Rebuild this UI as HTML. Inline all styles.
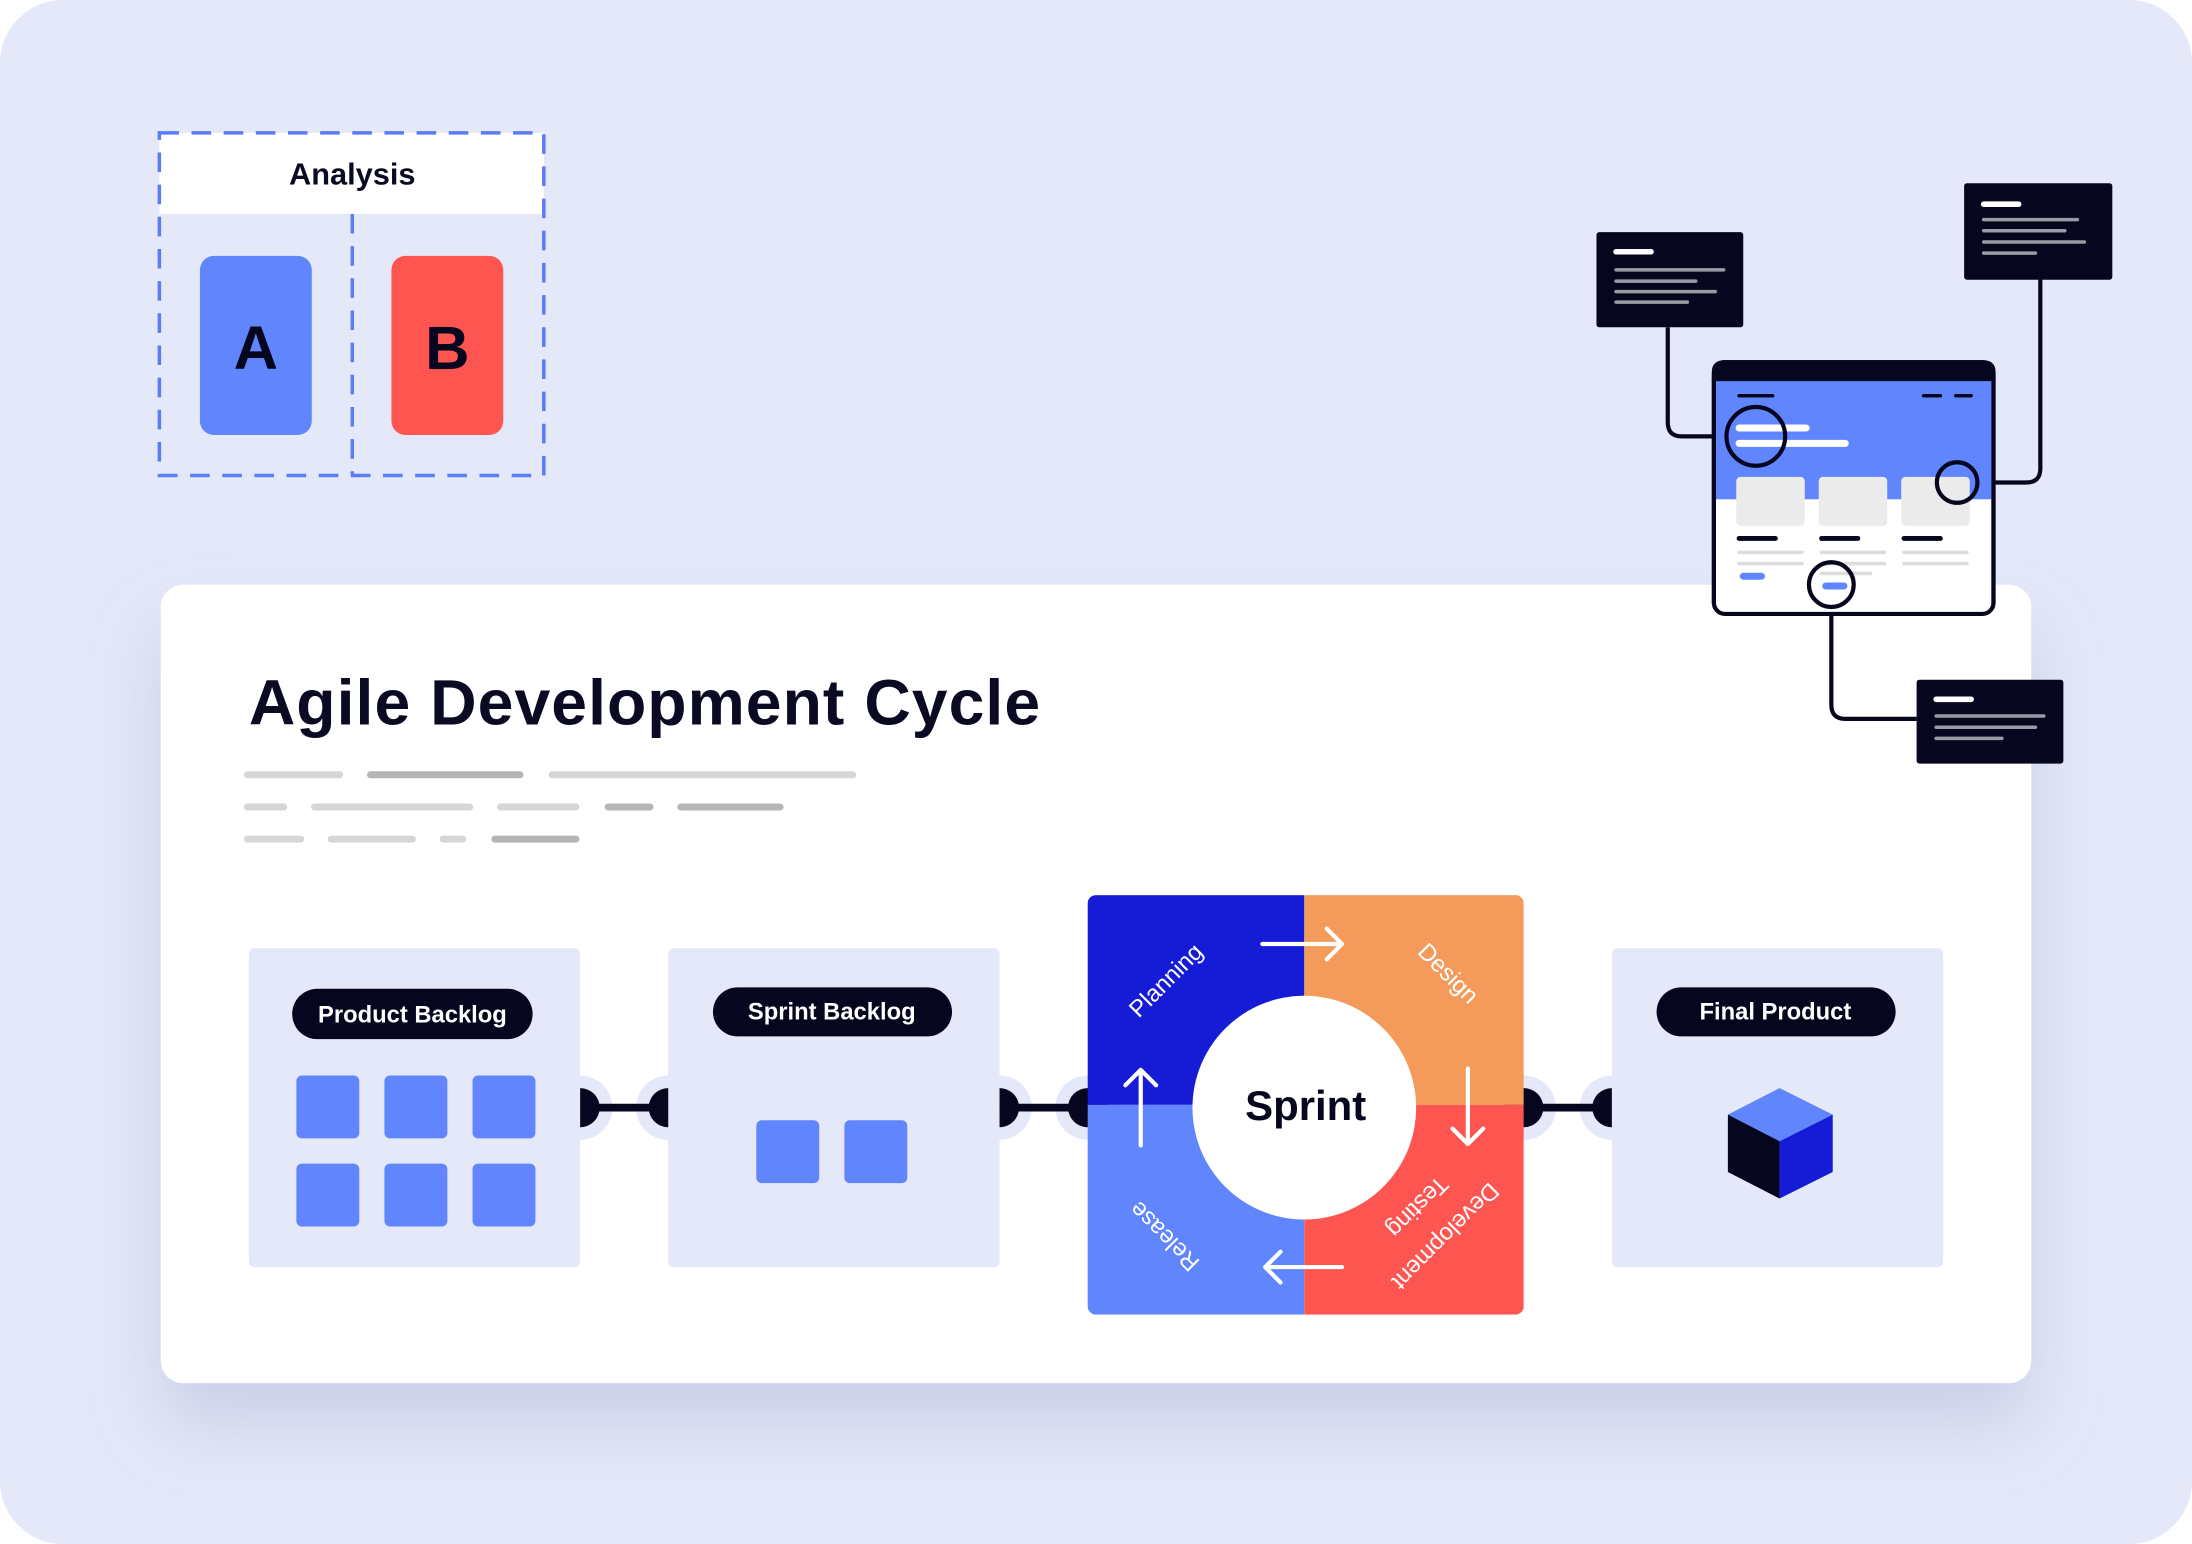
<!DOCTYPE html>
<html><head><meta charset="utf-8"><style>
html,body{margin:0;padding:0;background:#fff;width:2192px;height:1544px;overflow:hidden}
svg{display:block}
text{font-family:"Liberation Sans",sans-serif}
</style></head><body>
<svg width="2192" height="1544" viewBox="0 0 1568 1104" preserveAspectRatio="none" xmlns="http://www.w3.org/2000/svg">
<defs>
<filter id="sh" x="-10%" y="-10%" width="120%" height="140%"><feDropShadow dx="0" dy="30" stdDeviation="25" flood-color="#9aa3c8" flood-opacity="0.35"/></filter>
</defs>
<rect x="0" y="0" width="1568" height="1104" rx="45" fill="#e4e8f8"/>
<rect x="114" y="95" width="275" height="58" fill="#fff"/>
<rect x="114" y="95" width="275" height="245" fill="none" stroke="#5b7cf5" stroke-width="2.5" stroke-dasharray="14,9"/>
<line x1="252" y1="153" x2="252" y2="340" stroke="#5b7cf5" stroke-width="2.5" stroke-dasharray="14,9"/>
<text x="252" y="132" font-size="22" font-weight="bold" text-anchor="middle" fill="#0a0a23">Analysis</text>
<rect x="143" y="183" width="80" height="128" rx="10" fill="#6085fd"/>
<text x="183" y="264" font-size="44" font-weight="bold" text-anchor="middle" fill="#06061e">A</text>
<rect x="280" y="183" width="80" height="128" rx="10" fill="#ff5550"/>
<text x="320" y="264" font-size="44" font-weight="bold" text-anchor="middle" fill="#06061e">B</text>
<rect x="115" y="418" width="1338" height="571" rx="16" fill="#fff" filter="url(#sh)"/>
<text x="178" y="518" font-size="46" font-weight="bold" fill="#0a0a23" textLength="566">Agile Development Cycle</text>
<g stroke-linecap="round" stroke-width="5">
<line x1="177" y1="554" x2="243" y2="554" stroke="#d6d6d6"/>
<line x1="265" y1="554" x2="372" y2="554" stroke="#b5b5b5"/>
<line x1="395" y1="554" x2="610" y2="554" stroke="#d6d6d6"/>
<line x1="177" y1="577" x2="203" y2="577" stroke="#d6d6d6"/>
<line x1="225" y1="577" x2="336" y2="577" stroke="#d6d6d6"/>
<line x1="358" y1="577" x2="412" y2="577" stroke="#d6d6d6"/>
<line x1="435" y1="577" x2="465" y2="577" stroke="#b5b5b5"/>
<line x1="487" y1="577" x2="558" y2="577" stroke="#b5b5b5"/>
<line x1="177" y1="600" x2="215" y2="600" stroke="#d6d6d6"/>
<line x1="237" y1="600" x2="295" y2="600" stroke="#d6d6d6"/>
<line x1="317" y1="600" x2="331" y2="600" stroke="#d6d6d6"/>
<line x1="354" y1="600" x2="412" y2="600" stroke="#b5b5b5"/>
</g>
<g>
<circle cx="415" cy="792" r="23" fill="#e4e8f8"/><circle cx="478" cy="792" r="23" fill="#e4e8f8"/>
<circle cx="715" cy="792" r="23" fill="#e4e8f8"/><circle cx="778" cy="792" r="23" fill="#e4e8f8"/>
<circle cx="1090" cy="792" r="23" fill="#e4e8f8"/><circle cx="1153" cy="792" r="23" fill="#e4e8f8"/>
<circle cx="415" cy="792" r="14" fill="#06061e"/><circle cx="478" cy="792" r="14" fill="#06061e"/>
<circle cx="715" cy="792" r="14" fill="#06061e"/><circle cx="778" cy="792" r="14" fill="#06061e"/>
<circle cx="1090" cy="792" r="14" fill="#06061e"/><circle cx="1153" cy="792" r="14" fill="#06061e"/>
<g stroke="#06061e" stroke-width="5.5"><line x1="415" y1="792" x2="478" y2="792"/><line x1="715" y1="792" x2="778" y2="792"/><line x1="1090" y1="792" x2="1153" y2="792"/></g>
</g>
<rect x="178" y="678" width="237" height="228" rx="4" fill="#e4e8f8"/>
<rect x="209" y="707" width="172" height="36" rx="18" fill="#06061e"/>
<text x="295" y="731" font-size="17" font-weight="bold" fill="#fff" text-anchor="middle">Product Backlog</text>
<g fill="#6085fd">
<rect x="212" y="769" width="45" height="45" rx="4"/><rect x="275" y="769" width="45" height="45" rx="4"/><rect x="338" y="769" width="45" height="45" rx="4"/>
<rect x="212" y="832" width="45" height="45" rx="4"/><rect x="275" y="832" width="45" height="45" rx="4"/><rect x="338" y="832" width="45" height="45" rx="4"/>
</g>
<rect x="478" y="678" width="237" height="228" rx="4" fill="#e4e8f8"/>
<rect x="510" y="706" width="171" height="35" rx="17.5" fill="#06061e"/>
<text x="595" y="729" font-size="17" font-weight="bold" fill="#fff" text-anchor="middle">Sprint Backlog</text>
<rect x="541" y="801" width="45" height="45" rx="4" fill="#6085fd"/><rect x="604" y="801" width="45" height="45" rx="4" fill="#6085fd"/>
<rect x="1153" y="678" width="237" height="228" rx="4" fill="#e4e8f8"/>
<rect x="1185" y="706" width="171" height="35" rx="17.5" fill="#06061e"/>
<text x="1270" y="729" font-size="17" font-weight="bold" fill="#fff" text-anchor="middle">Final Product</text>
<polygon points="1273,778 1311,797 1273,816 1236,797" fill="#6085fd"/>
<polygon points="1236,797 1273,816 1273,857 1236,838" fill="#06061e"/>
<polygon points="1273,816 1311,797 1311,838 1273,857" fill="#161cd6"/>
<clipPath id="sq"><rect x="778" y="640" width="312" height="300" rx="6"/></clipPath>
<g clip-path="url(#sq)">
<rect x="778" y="640" width="155" height="150" fill="#161cd6"/>
<rect x="933" y="640" width="157" height="150" fill="#f49a5a"/>
<rect x="778" y="790" width="155" height="150" fill="#6085fd"/>
<rect x="933" y="790" width="157" height="150" fill="#ff5550"/>
</g>
<circle cx="933" cy="792" r="80" fill="#fff"/>
<text x="934" y="801" font-size="30" font-weight="bold" text-anchor="middle" fill="#06061e">Sprint</text>
<g fill="#fff" font-size="17" text-anchor="middle">
<text transform="translate(838,705) rotate(-45)">Planning</text>
<text transform="translate(1032,700) rotate(45)">Design</text>
<text transform="translate(837,880) rotate(225)">Release</text>
<text transform="translate(1030,880) rotate(135)">Development</text>
<text transform="translate(1010,859) rotate(135)">Testing</text>
</g>
<g stroke="#fff" stroke-width="3" fill="none" stroke-linecap="round" stroke-linejoin="round">
<path d="M903 675 H960 M949 664 L960 675 L949 686"/>
<path d="M1050 764 V818 M1039 807 L1050 818 L1061 807"/>
<path d="M960 906 H905 M916 895 L905 906 L916 917"/>
<path d="M816 819 V765 M805 776 L816 765 L827 776"/>
</g>
<g stroke="#06061e" stroke-width="3" fill="none">
<path d="M1193 234 V302 Q1193 312 1203 312 H1235"/>
<path d="M1459.5 199 V335 Q1459.5 345 1449.5 345 H1415"/>
<path d="M1310 434 V504 Q1310 514 1320 514 H1371"/>
</g>
<rect x="1226" y="259" width="200" height="180" rx="8" fill="#fff" stroke="#06061e" stroke-width="3"/>
<rect x="1227" y="271" width="198" height="86" fill="#6085fd"/>
<path d="M1226 271 V266 Q1226 259 1234 259 H1418 Q1426 259 1426 266 V271 Z" fill="#06061e" stroke="#06061e" stroke-width="3"/>
<line x1="1226" y1="271" x2="1226" y2="432" stroke="#06061e" stroke-width="3"/>
<line x1="1426" y1="271" x2="1426" y2="432" stroke="#06061e" stroke-width="3"/>
<g stroke-linecap="round">
<line x1="1244" y1="283" x2="1268" y2="283" stroke="#06061e" stroke-width="2.5"/>
<line x1="1376" y1="283" x2="1388" y2="283" stroke="#06061e" stroke-width="2.5"/>
<line x1="1399" y1="283" x2="1410" y2="283" stroke="#06061e" stroke-width="2.5"/>
<line x1="1244" y1="306" x2="1292" y2="306" stroke="#fff" stroke-width="5"/>
<line x1="1244" y1="317" x2="1320" y2="317" stroke="#fff" stroke-width="5"/>
</g>
<g fill="#ebebeb"><rect x="1242" y="341" width="49" height="35" rx="3"/><rect x="1301" y="341" width="49" height="35" rx="3"/><rect x="1360" y="341" width="49" height="35" rx="3"/></g>
<g stroke-linecap="round">
<g stroke="#06061e" stroke-width="3.5"><line x1="1244" y1="385" x2="1270" y2="385"/><line x1="1303" y1="385" x2="1329" y2="385"/><line x1="1362" y1="385" x2="1388" y2="385"/></g>
<g stroke="#dcdcdc" stroke-width="2.5"><line x1="1244" y1="395" x2="1289" y2="395"/><line x1="1244" y1="403" x2="1289" y2="403"/><line x1="1303" y1="395" x2="1348" y2="395"/><line x1="1303" y1="403" x2="1348" y2="403"/><line x1="1303" y1="410" x2="1338" y2="410"/><line x1="1362" y1="395" x2="1407" y2="395"/><line x1="1362" y1="403" x2="1407" y2="403"/></g>
<g stroke="#6085fd" stroke-width="5"><line x1="1247" y1="412" x2="1260" y2="412"/><line x1="1306" y1="419" x2="1319" y2="419"/></g>
</g>
<g fill="none" stroke="#06061e" stroke-width="3"><circle cx="1256" cy="312" r="21"/><circle cx="1400" cy="345" r="14.5"/><circle cx="1310" cy="418" r="16"/></g>
<rect x="1142" y="166" width="105" height="68" rx="2" fill="#06061e"/>
<g stroke-linecap="round" stroke-width="2.5"><line x1="1156" y1="180" x2="1181" y2="180" stroke="#fff" stroke-width="4"/><line x1="1156" y1="193" x2="1233" y2="193" stroke="#9a9aa4"/><line x1="1156" y1="201" x2="1213" y2="201" stroke="#9a9aa4"/><line x1="1156" y1="208.5" x2="1227" y2="208.5" stroke="#9a9aa4"/><line x1="1156" y1="216" x2="1207" y2="216" stroke="#9a9aa4"/></g>
<rect x="1405" y="131" width="106" height="69" rx="2" fill="#06061e"/>
<g stroke-linecap="round" stroke-width="2.5"><line x1="1419" y1="146" x2="1444" y2="146" stroke="#fff" stroke-width="4"/><line x1="1419" y1="157" x2="1486" y2="157" stroke="#9a9aa4"/><line x1="1419" y1="165" x2="1477" y2="165" stroke="#9a9aa4"/><line x1="1419" y1="173" x2="1491" y2="173" stroke="#9a9aa4"/><line x1="1419" y1="181" x2="1456" y2="181" stroke="#9a9aa4"/></g>
<rect x="1371" y="486" width="105" height="60" rx="2" fill="#06061e"/>
<g stroke-linecap="round" stroke-width="2.5"><line x1="1385" y1="500" x2="1410" y2="500" stroke="#fff" stroke-width="4"/><line x1="1385" y1="512" x2="1462" y2="512" stroke="#9a9aa4"/><line x1="1385" y1="520" x2="1456" y2="520" stroke="#9a9aa4"/><line x1="1385" y1="528" x2="1432" y2="528" stroke="#9a9aa4"/></g>
</svg>
</body></html>
